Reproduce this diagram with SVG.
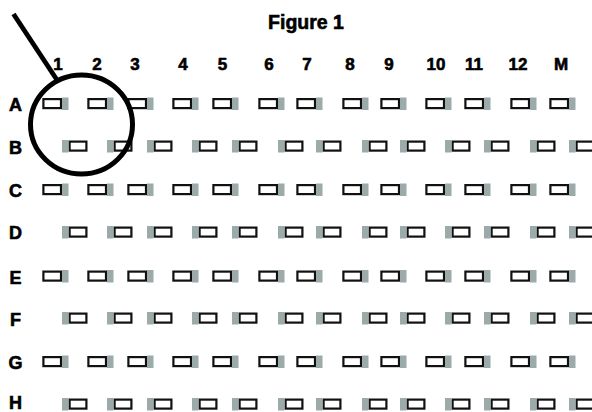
<svg xmlns="http://www.w3.org/2000/svg" xmlns:xlink="http://www.w3.org/1999/xlink" width="592" height="412" viewBox="0 0 592 412">
<style>
.t{font-family:"Liberation Sans",Arial,sans-serif;font-weight:bold;fill:#000;stroke:#000;stroke-width:0.6;text-anchor:middle}
.col{font-size:17px}
.row{font-size:18px}
.g{fill:#9cabaa}
.b{fill:#fff;stroke:#111;stroke-width:2.2}
.ann{fill:none;stroke:#000}
</style>
<defs>
<g id="wo"><rect class="b" x="-18.6" y="1.1" width="17.6" height="9" /><rect class="g" x="0" y="-0.5" width="6.5" height="12.5"/></g>
<g id="we"><rect class="b" x="7.6" y="1.1" width="16.8" height="9"/><rect class="g" x="0" y="-0.5" width="6.5" height="12.5"/></g>
</defs>
<rect width="592" height="412" fill="#fff"/>
<text id="title" class="t" x="306" y="28.5" style="font-size:19.5px">Figure 1</text>
<g id="columns" class="t col">
<text x="58" y="69.5">1</text><text x="97" y="69.5">2</text><text x="135" y="69.5">3</text><text x="183" y="69.5">4</text><text x="222.5" y="69.5">5</text><text x="269" y="69.5">6</text><text x="307" y="69.5">7</text><text x="350" y="69.5">8</text><text x="389" y="69.5">9</text><text x="436" y="69.5">10</text><text x="474" y="69.5">11</text><text x="518" y="69.5">12</text><text x="561" y="69.5">M</text>
</g>
<g id="rowA"><text class="t row" x="15.5" y="111">A</text><g transform="translate(0,98)"><use xlink:href="#wo" x="62"/><use xlink:href="#wo" x="107"/><use xlink:href="#wo" x="147"/><use xlink:href="#wo" x="192"/><use xlink:href="#wo" x="232"/><use xlink:href="#wo" x="278"/><use xlink:href="#wo" x="316"/><use xlink:href="#wo" x="362"/><use xlink:href="#wo" x="400"/><use xlink:href="#wo" x="445"/><use xlink:href="#wo" x="484"/><use xlink:href="#wo" x="530"/><use xlink:href="#wo" x="569"/></g></g>
<g id="rowB"><text class="t row" x="15.5" y="153.5">B</text><g transform="translate(0,140.5)"><use xlink:href="#we" x="62"/><use xlink:href="#we" x="107"/><use xlink:href="#we" x="147"/><use xlink:href="#we" x="192"/><use xlink:href="#we" x="232"/><use xlink:href="#we" x="278"/><use xlink:href="#we" x="316"/><use xlink:href="#we" x="362"/><use xlink:href="#we" x="400"/><use xlink:href="#we" x="445"/><use xlink:href="#we" x="484"/><use xlink:href="#we" x="530"/><use xlink:href="#we" x="569"/></g></g>
<g id="rowC"><text class="t row" x="15.5" y="197">C</text><g transform="translate(0,184)"><use xlink:href="#wo" x="62"/><use xlink:href="#wo" x="107"/><use xlink:href="#wo" x="147"/><use xlink:href="#wo" x="192"/><use xlink:href="#wo" x="232"/><use xlink:href="#wo" x="278"/><use xlink:href="#wo" x="316"/><use xlink:href="#wo" x="362"/><use xlink:href="#wo" x="400"/><use xlink:href="#wo" x="445"/><use xlink:href="#wo" x="484"/><use xlink:href="#wo" x="530"/><use xlink:href="#wo" x="569"/></g></g>
<g id="rowD"><text class="t row" x="15.5" y="239">D</text><g transform="translate(0,226.5)"><use xlink:href="#we" x="62"/><use xlink:href="#we" x="107"/><use xlink:href="#we" x="147"/><use xlink:href="#we" x="192"/><use xlink:href="#we" x="232"/><use xlink:href="#we" x="278"/><use xlink:href="#we" x="316"/><use xlink:href="#we" x="362"/><use xlink:href="#we" x="400"/><use xlink:href="#we" x="445"/><use xlink:href="#we" x="484"/><use xlink:href="#we" x="530"/><use xlink:href="#we" x="569"/></g></g>
<g id="rowE"><text class="t row" x="15.5" y="283.5">E</text><g transform="translate(0,270.5)"><use xlink:href="#wo" x="62"/><use xlink:href="#wo" x="107"/><use xlink:href="#wo" x="147"/><use xlink:href="#wo" x="192"/><use xlink:href="#wo" x="232"/><use xlink:href="#wo" x="278"/><use xlink:href="#wo" x="316"/><use xlink:href="#wo" x="362"/><use xlink:href="#wo" x="400"/><use xlink:href="#wo" x="445"/><use xlink:href="#wo" x="484"/><use xlink:href="#wo" x="530"/><use xlink:href="#wo" x="569"/></g></g>
<g id="rowF"><text class="t row" x="15.5" y="325.5">F</text><g transform="translate(0,312.5)"><use xlink:href="#we" x="62"/><use xlink:href="#we" x="107"/><use xlink:href="#we" x="147"/><use xlink:href="#we" x="192"/><use xlink:href="#we" x="232"/><use xlink:href="#we" x="278"/><use xlink:href="#we" x="316"/><use xlink:href="#we" x="362"/><use xlink:href="#we" x="400"/><use xlink:href="#we" x="445"/><use xlink:href="#we" x="484"/><use xlink:href="#we" x="530"/><use xlink:href="#we" x="569"/></g></g>
<g id="rowG"><text class="t row" x="15.5" y="369">G</text><g transform="translate(0,356)"><use xlink:href="#wo" x="62"/><use xlink:href="#wo" x="107"/><use xlink:href="#wo" x="147"/><use xlink:href="#wo" x="192"/><use xlink:href="#wo" x="232"/><use xlink:href="#wo" x="278"/><use xlink:href="#wo" x="316"/><use xlink:href="#wo" x="362"/><use xlink:href="#wo" x="400"/><use xlink:href="#wo" x="445"/><use xlink:href="#wo" x="484"/><use xlink:href="#wo" x="530"/><use xlink:href="#wo" x="569"/></g></g>
<g id="rowH"><text class="t row" x="15.5" y="408.5">H</text><g transform="translate(0,398.5)"><use xlink:href="#we" x="62"/><use xlink:href="#we" x="107"/><use xlink:href="#we" x="147"/><use xlink:href="#we" x="192"/><use xlink:href="#we" x="232"/><use xlink:href="#we" x="278"/><use xlink:href="#we" x="316"/><use xlink:href="#we" x="362"/><use xlink:href="#we" x="400"/><use xlink:href="#we" x="445"/><use xlink:href="#we" x="484"/><use xlink:href="#we" x="530"/><use xlink:href="#we" x="569"/></g></g>
<g id="connectors">
<line class="ann" x1="13.5" y1="14" x2="57" y2="80" stroke-width="4.8"/>
<ellipse class="ann" cx="81.5" cy="124.5" rx="51" ry="49.5" stroke-width="5"/>
</g>
</svg>
